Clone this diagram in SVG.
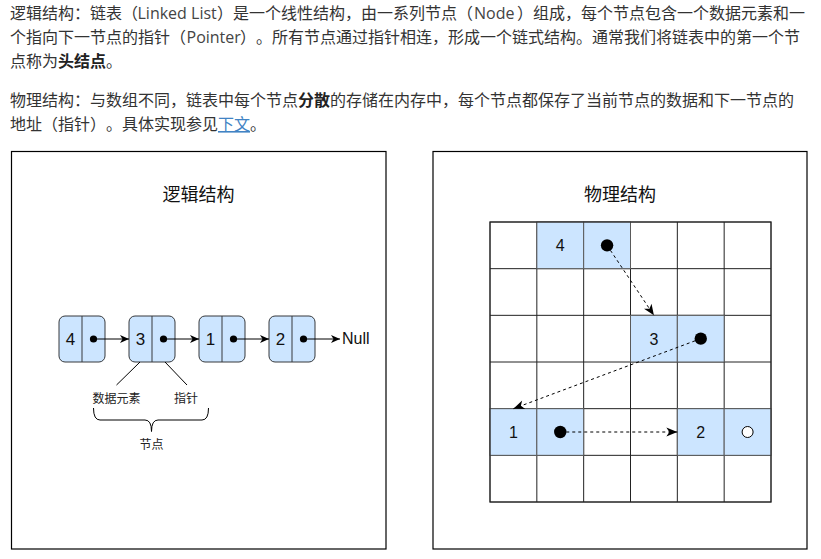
<svg xmlns="http://www.w3.org/2000/svg" width="821" height="559" viewBox="0 0 821 559">
<style>
.p{font-family:"Noto Sans CJK SC","Noto Sans",sans-serif;font-size:16px;fill:#333;text-spacing-trim:space-all}
.lat{font-family:"Open Sans","Noto Sans",sans-serif;fill:#444}
.b{font-weight:bold;fill:#222}
.lnk{fill:#4183c4;text-decoration:underline}
.frame{fill:#fff;stroke:#000;stroke-width:1.2}
.title{font-family:"Noto Sans CJK SC",sans-serif;font-size:18px;fill:#111;text-anchor:middle}
.node{fill:#cce5ff;stroke:#36393d;stroke-width:1}
.num{font-family:"Liberation Sans",Arial,sans-serif;font-size:17px;fill:#111;text-anchor:middle}
.lbl{font-family:"Noto Sans CJK SC",sans-serif;font-size:12px;fill:#222;text-anchor:middle}
.conn{fill:none;stroke:#000;stroke-width:1}
.dash{fill:none;stroke:#000;stroke-width:1;stroke-dasharray:3 3}
.cw{fill:#fff;stroke:#222;stroke-width:1}
.cb{fill:#cce5ff;stroke:#5a5a5a;stroke-width:1}
.gnum{font-family:"Liberation Sans",Arial,sans-serif;font-size:16px;fill:#111;text-anchor:middle}
</style>
<defs>
<marker id="ah" markerUnits="userSpaceOnUse" markerWidth="10" markerHeight="8" refX="9" refY="4" orient="auto" overflow="visible">
<path d="M0,0 L9,4 L0,8 L2.5,4 Z" fill="#000"/>
</marker>
<marker id="ah2" markerUnits="userSpaceOnUse" markerWidth="12" markerHeight="10" refX="11" refY="4.5" orient="auto" overflow="visible">
<path d="M0,0 L11,4.5 L0,9 L3,4.5 Z" fill="#000"/>
</marker>
</defs>
<rect width="821" height="559" fill="#fff"/>

<g id="paragraphs">
<text class="p" x="10" y="19">逻辑结构：链表（<tspan class="lat" x="137.5">Linked List</tspan><tspan x="217">）是一个线性结构，由一系列节点（</tspan><tspan class="lat" x="474">Node</tspan><tspan x="517">）组成，每个节点包含一个数据元素和一</tspan></text>
<text class="p" x="10" y="43">个指向下一节点的指针（<tspan class="lat" x="186.5">Pointer</tspan><tspan x="240">）</tspan><tspan x="256">。</tspan><tspan x="272">所有节点通过指针相连，形成一个链式结构。通常我们将链表中的第一个节</tspan></text>
<text class="p" x="10" y="67">点称为<tspan class="b">头结点</tspan>。</text>
<text class="p" x="10" y="106">物理结构：与数组不同，链表中每个节点<tspan class="b">分散</tspan>的存储在内存中，每个节点都保存了当前节点的数据和下一节点的</text>
<text class="p" x="10" y="130">地址（指针）<tspan x="106">。</tspan><tspan x="122">具体实现参见</tspan><tspan class="lnk" x="218">下文</tspan><tspan x="250">。</tspan></text>
</g>

<g id="logic-frame">
<rect class="frame" x="11.5" y="151.5" width="374.5" height="397.5"/>
<text class="title" x="198.5" y="201">逻辑结构</text>
</g>

<g id="physical-frame">
<rect class="frame" x="433" y="151.5" width="374" height="397.5"/>
<text class="title" x="620" y="201">物理结构</text>
</g>

<g id="node-4">
<rect class="node" x="59" y="316" width="46" height="46" rx="6"/>
<line x1="82" y1="316" x2="82" y2="362" stroke="#36393d"/>
<text class="num" x="70.5" y="345">4</text>
<circle cx="93.5" cy="339" r="3.6" fill="#000"/>
</g>
<g id="node-3">
<rect class="node" x="129" y="316" width="46" height="46" rx="6"/>
<line x1="152" y1="316" x2="152" y2="362" stroke="#36393d"/>
<text class="num" x="140.5" y="345">3</text>
<circle cx="163.5" cy="339" r="3.6" fill="#000"/>
</g>
<g id="node-1">
<rect class="node" x="199" y="316" width="46" height="46" rx="6"/>
<line x1="222" y1="316" x2="222" y2="362" stroke="#36393d"/>
<text class="num" x="210.5" y="345">1</text>
<circle cx="233.5" cy="339" r="3.6" fill="#000"/>
</g>
<g id="node-2">
<rect class="node" x="269" y="316" width="46" height="46" rx="6"/>
<line x1="292" y1="316" x2="292" y2="362" stroke="#36393d"/>
<text class="num" x="280.5" y="345">2</text>
<circle cx="303.5" cy="339" r="3.6" fill="#000"/>
</g>
<g id="null-label">
<text x="342" y="344" font-family="Liberation Sans, Arial, sans-serif" font-size="16" fill="#111">Null</text>
</g>
<g id="label-data">
<text class="lbl" x="116.5" y="403">数据元素</text>
</g>
<g id="label-pointer">
<text class="lbl" x="186" y="403">指针</text>
</g>
<g id="brace">
<path class="conn" d="M93.5,408 Q93.5,420 100,420 L145,420 Q151.5,420 151.5,431.5 Q151.5,420 158,420 L202,420 Q208.5,420 208.5,408"/>
</g>
<g id="label-node">
<text class="lbl" x="151.5" y="449">节点</text>
</g>

<g id="grid">
<rect class="cw" x="490" y="222" width="281" height="280"/>
<path d="M536.83,222V502M583.67,222V502M630.5,222V502M677.33,222V502M724.17,222V502M490,268.67H771M490,315.33H771M490,362H771M490,408.67H771M490,455.33H771" fill="none" stroke="#222"/>
<rect class="cb" x="536.83" y="222" width="46.84" height="46.67"/>
<rect class="cb" x="583.67" y="222" width="46.83" height="46.67"/>
<rect class="cb" x="630.5" y="315.33" width="46.83" height="46.67"/>
<rect class="cb" x="677.33" y="315.33" width="46.84" height="46.67"/>
<rect class="cb" x="490" y="408.67" width="46.83" height="46.66"/>
<rect class="cb" x="536.83" y="408.67" width="46.84" height="46.66"/>
<rect class="cb" x="677.33" y="408.67" width="46.84" height="46.66"/>
<rect class="cb" x="724.17" y="408.67" width="46.83" height="46.66"/>
<rect x="490" y="222" width="281" height="280" fill="none" stroke="#222"/>
</g>
<g id="cell-4"><text class="gnum" x="560.25" y="251">4</text></g>
<g id="cell-4-ptr"><circle cx="607.08" cy="245.33" r="6.2" fill="#000"/></g>
<g id="cell-3"><text class="gnum" x="653.9" y="344.5">3</text></g>
<g id="cell-3-ptr"><circle cx="700.75" cy="338.67" r="6.2" fill="#000"/></g>
<g id="cell-1"><text class="gnum" x="513.4" y="437.8">1</text></g>
<g id="cell-1-ptr"><circle cx="560.25" cy="432" r="6.2" fill="#000"/></g>
<g id="cell-2"><text class="gnum" x="700.75" y="437.8">2</text></g>
<g id="cell-2-ptr"><circle cx="747.6" cy="432" r="5.5" fill="#fff" stroke="#000" stroke-width="1"/></g>

<g id="connectors">
<line class="conn" x1="93.5" y1="339" x2="129" y2="339" marker-end="url(#ah)"/>
<line class="conn" x1="163.5" y1="339" x2="199" y2="339" marker-end="url(#ah)"/>
<line class="conn" x1="233.5" y1="339" x2="269" y2="339" marker-end="url(#ah)"/>
<line class="conn" x1="303.5" y1="339" x2="340" y2="339" marker-end="url(#ah)"/>
<line class="conn" x1="140" y1="362" x2="116.5" y2="385"/>
<line class="conn" x1="165" y1="362" x2="187" y2="385"/>
<line class="dash" x1="607.08" y1="245.33" x2="653.9" y2="315.33" marker-end="url(#ah2)"/>
<line class="dash" x1="700.75" y1="338.67" x2="513.4" y2="408.67" marker-end="url(#ah2)"/>
<line class="dash" x1="560.25" y1="432" x2="677.33" y2="432" marker-end="url(#ah2)"/>
</g>
</svg>
